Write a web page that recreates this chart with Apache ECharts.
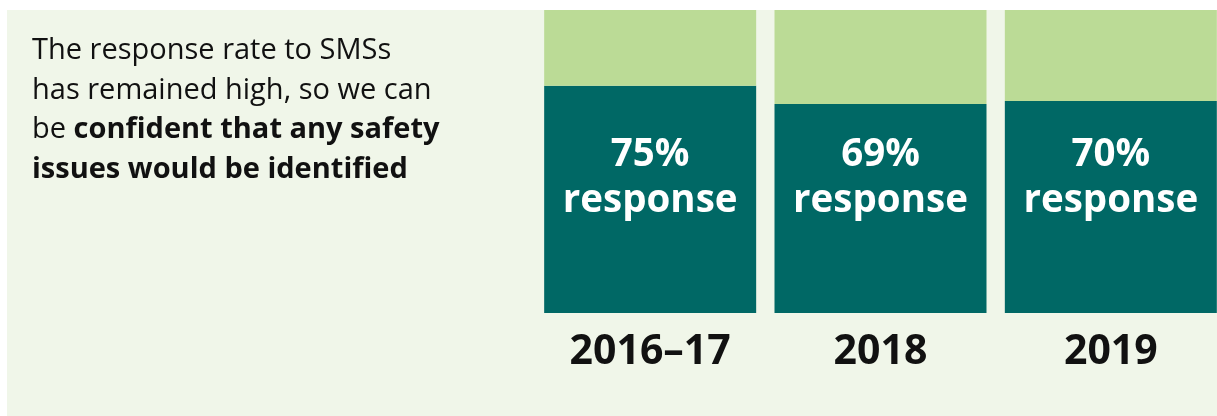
<!DOCTYPE html>
<html>
<head>
<meta charset="utf-8">
<style>
html,body{margin:0;padding:0;background:#ffffff;}
#chart{width:1217px;height:416px;}
</style>
<script src="https://cdn.jsdelivr.net/npm/echarts@6/dist/echarts.min.js"></script>
</head>
<body>
<div id="chart"></div>
<script>
const categories = ['2016–17', '2018', '2019'];
const responseRates = [75, 69, 70];
const nonResponse = [25, 31, 30];
const labelLevel = [44.5, 44.5, 44.5];

const FONT = '"Open Sans", "Liberation Sans", sans-serif';
const chart = echarts.init(document.getElementById('chart'));
chart.setOption({
  animation: false,
  backgroundColor: '#ffffff',
  graphic: [{
    type: 'rect', z: -10, silent: true,
    shape: {x: 7, y: 10, width: 1217, height: 416},
    style: {fill: '#f0f6e9'}
  }],
  title: {
    left: 32, top: 31, padding: 0,
    text: 'The response rate to SMSs\nhas remained high, so we can\nbe {b|confident that any safety}\n{b|issues would be identified}',
    textStyle: {
      fontFamily: FONT, fontSize: 29, fontWeight: 'normal', color: '#111111', lineHeight: 39.5,
      rich: {b: {fontFamily: FONT, fontSize: 29, fontWeight: 'bold', color: '#111111', lineHeight: 39.5}}
    }
  },
  grid: {left: 535, width: 691, top: 10, bottom: 103, containLabel: false, outerBoundsMode: 'none'},
  xAxis: {
    type: 'category', data: categories,
    axisLine: {show: false}, axisTick: {show: false},
    axisLabel: {fontFamily: FONT, fontSize: 41, fontWeight: 'bold', color: '#111111', margin: 19, interval: 0}
  },
  yAxis: {type: 'value', min: 0, max: 100, show: false, splitLine: {show: false}},
  series: [
    {
      type: 'bar', stack: 'r', data: responseRates, barWidth: 212,
      itemStyle: {color: '#006865'}
    },
    {
      type: 'bar', stack: 'r', data: nonResponse, barWidth: 212,
      itemStyle: {color: '#bbdb96'}
    },
    {
      type: 'scatter', symbolSize: 0, z: 10,
      data: labelLevel.map((v, i) => [i, v]),
      itemStyle: {opacity: 1},
      label: {
        show: true, position: 'inside', textBorderWidth: 0, opacity: 1,
        formatter: p => '{a|' + responseRates[p.dataIndex] + '%}\n{a|response}',
        rich: {a: {fontFamily: FONT, fontSize: 38.5, fontWeight: 'bold', color: '#ffffff', lineHeight: 46, align: 'center', textBorderWidth: 0}}
      }
    }
  ]
});
</script>
</body>
</html>
